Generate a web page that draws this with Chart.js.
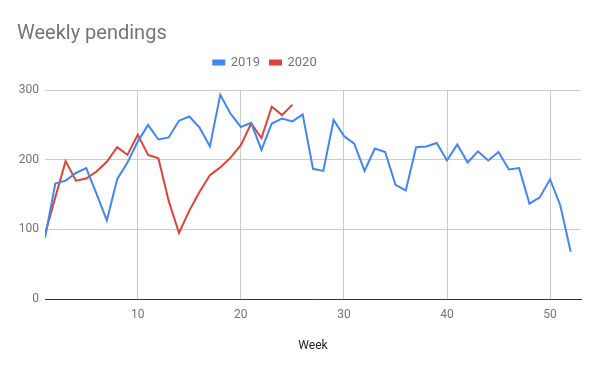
<!DOCTYPE html>
<html>
<head>
<meta charset="utf-8">
<script src="https://cdn.jsdelivr.net/npm/chart.js@4"></script>
<style>
  html, body { margin: 0; padding: 0; background: #fff; }
  #wrap { width: 600px; height: 371px; }
</style>
</head>
<body>
<div id="wrap"><canvas id="chart" width="600" height="371"></canvas></div>
<script>
const weeks = [1, 2, 3, 4, 5, 6, 7, 8, 9, 10, 11, 12, 13, 14, 15, 16, 17, 18, 19, 20,
    21, 22, 23, 24, 25, 26, 27, 28, 29, 30, 31, 32, 33, 34, 35, 36, 37, 38, 39, 40,
    41, 42, 43, 44, 45, 46, 47, 48, 49, 50, 51, 52];

const pend2019 = [88, 166, 170, 181, 188, 151, 113, 172, 196, 226, 250, 229, 232, 256, 262, 246,
    219, 293, 266, 247, 253, 214, 252, 259, 255, 265, 187, 184, 257, 234, 223, 184, 216,
    211, 164, 156, 218, 219, 224, 199, 222, 196, 212, 199, 211, 186, 188, 137, 146, 172, 134, 68];

const pend2020 = [93, 146, 198, 170, 173, 183, 197, 218, 207, 236, 207, 202, 141, 95, 127, 154,
    178, 189, 203, 221, 252, 231, 276, 264, 279];

const xTicks = [10, 20, 30, 40, 50];
const yTicks = [0, 100, 200, 300];

const grey = "#757575";

function toPoints(values) {
    return values.map((v, i) => ({ x: weeks[i], y: v }));
}

// push the plot area down below the legend, and nudge the legend left
const legendTweak = {
    id: "legendTweak",
    beforeInit(chart) {
        const fit = chart.legend.fit;
        chart.legend.fit = function () {
            fit.bind(chart.legend)();
            this.height += 11;
        };
    },
    afterLayout(chart) {
        chart.legend.left -= 34;
        chart.legend.right -= 34;
    }
};

const chart = new Chart(document.getElementById("chart"), {
    type: "line",
    data: {
        datasets: [
            {
                label: "2019",
                data: toPoints(pend2019),
                borderColor: "#4285F4",
                backgroundColor: "#4285F4",
                borderWidth: 2,
                pointRadius: 0,
                tension: 0
            },
            {
                label: "2020",
                data: toPoints(pend2020),
                borderColor: "#DB4437",
                backgroundColor: "#DB4437",
                borderWidth: 2,
                pointRadius: 0,
                tension: 0
            }
        ]
    },
    options: {
        responsive: false,
        animation: false,
        layout: {
            padding: { left: 17, right: 19, top: 0, bottom: 18 }
        },
        plugins: {
            title: {
                display: true,
                text: "Weekly pendings",
                align: "start",
                color: grey,
                font: { family: "Roboto", size: 20, weight: "normal" },
                padding: { top: 22, bottom: 0 }
            },
            legend: {
                display: true,
                labels: {
                    color: grey,
                    font: { family: "Roboto", size: 13 },
                    boxWidth: 11,
                    boxHeight: 4,
                    padding: 10
                }
            },
            tooltip: { enabled: false }
        },
        scales: {
            x: {
                type: "linear",
                min: 1,
                max: 53,
                afterBuildTicks: function (scale) {
                    scale.ticks = xTicks.map(v => ({ value: v }));
                },
                grid: {
                    color: "#cccccc",
                    drawTicks: false
                },
                border: { display: true, color: "#333333", width: 1 },
                ticks: {
                    color: grey,
                    font: { family: "Roboto", size: 12 },
                    padding: 9,
                    maxRotation: 0
                },
                title: {
                    display: true,
                    text: "Week",
                    color: "#222222",
                    font: { family: "Roboto", size: 12 },
                    padding: { top: 7, bottom: 0 }
                }
            },
            y: {
                min: 0,
                max: 300,
                afterBuildTicks: function (scale) {
                    scale.ticks = yTicks.map(v => ({ value: v }));
                },
                afterFit: function (scale) {
                    scale.width = 28;
                },
                grid: {
                    color: "#cccccc",
                    drawTicks: false
                },
                border: { display: false },
                ticks: {
                    color: grey,
                    font: { family: "Roboto", size: 12 },
                    padding: 6
                }
            }
        }
    },
    plugins: [legendTweak]
});
</script>
</body>
</html>
